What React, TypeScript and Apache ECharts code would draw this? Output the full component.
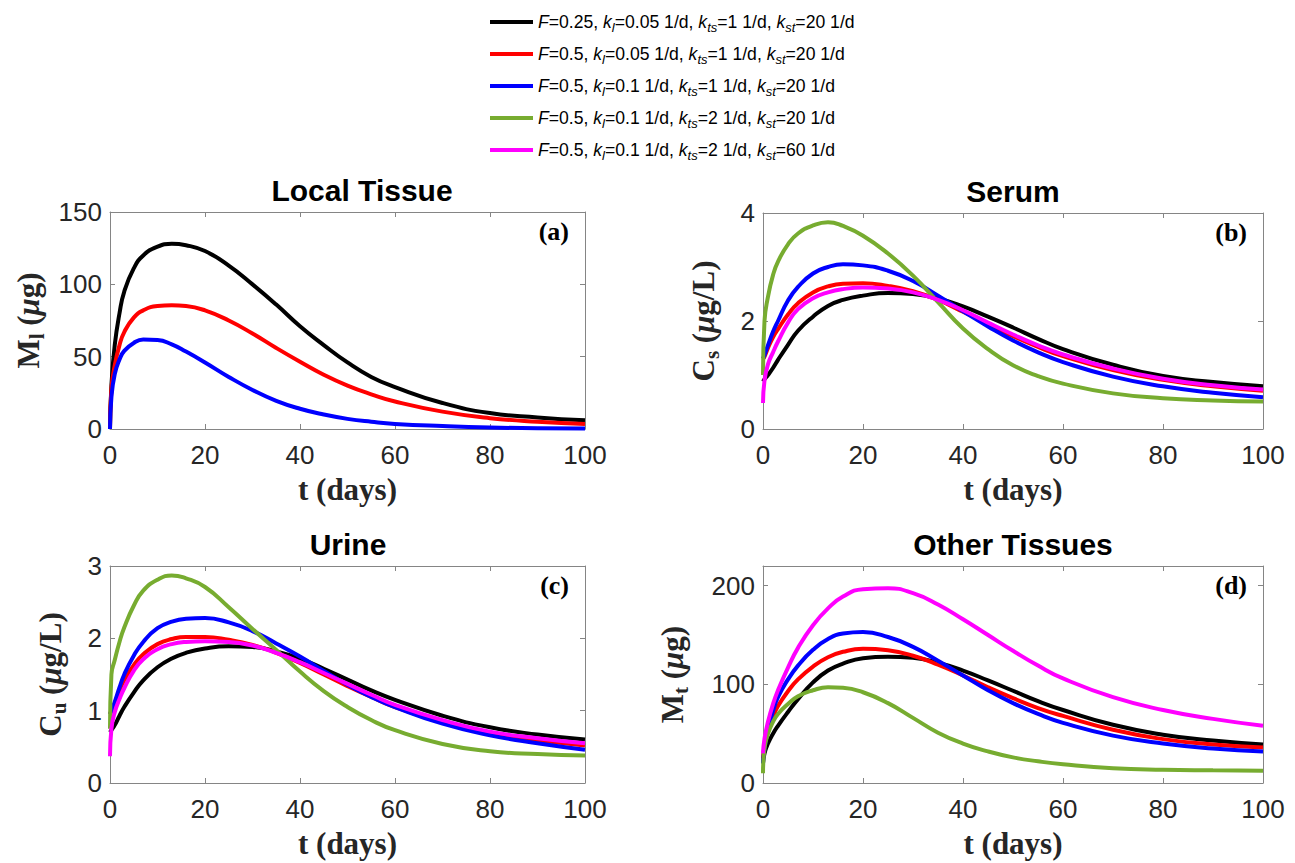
import React, { useEffect, useRef } from 'react';
import * as echarts from 'echarts';

// time points (days)
const T = [0, 0.3, 1, 2, 3, 5, 7, 10, 13, 16, 20, 25, 30, 35, 40, 45, 50, 55, 60, 70, 80, 90, 100];

const seriesNames = [
  'F=0.25, kl=0.05 1/d, kts=1 1/d, kst=20 1/d',
  'F=0.5, kl=0.05 1/d, kts=1 1/d, kst=20 1/d',
  'F=0.5, kl=0.1 1/d, kts=1 1/d, kst=20 1/d',
  'F=0.5, kl=0.1 1/d, kts=2 1/d, kst=20 1/d',
  'F=0.5, kl=0.1 1/d, kts=2 1/d, kst=60 1/d',
];
const legendRich = [
  '{i|F}=0.25, {i|k}{s|l}=0.05 1/d, {i|k}{s|ts}=1 1/d, {i|k}{s|st}=20 1/d',
  '{i|F}=0.5, {i|k}{s|l}=0.05 1/d, {i|k}{s|ts}=1 1/d, {i|k}{s|st}=20 1/d',
  '{i|F}=0.5, {i|k}{s|l}=0.1 1/d, {i|k}{s|ts}=1 1/d, {i|k}{s|st}=20 1/d',
  '{i|F}=0.5, {i|k}{s|l}=0.1 1/d, {i|k}{s|ts}=2 1/d, {i|k}{s|st}=20 1/d',
  '{i|F}=0.5, {i|k}{s|l}=0.1 1/d, {i|k}{s|ts}=2 1/d, {i|k}{s|st}=60 1/d',
];
const colors = ['#000000', '#ff0000', '#0000ff', '#77ac30', '#ff00ff'];

// (a) Local Tissue, M_l (ug)
const aBlack = [0, 30, 58, 80, 95, 111, 120, 126, 128, 127, 123, 113, 100, 86, 71, 58, 46, 36, 29, 18, 11, 8, 6];
const aRed = [0, 28, 44, 58, 67, 77, 82, 85, 85.5, 85, 82, 75, 66, 56, 46.5, 37.5, 30, 24, 19, 12, 7.5, 5, 3.5];
const aBlue = [0, 22, 38, 48, 54, 59.5, 61.8, 61.5, 58.5, 53.5, 46, 36, 27, 19.5, 14, 10, 7, 5, 3.5, 2, 1, 0.6, 0.4];

// (b) Serum, C_s (ug/L)
const bBlack = [0.88, 0.92, 1.0, 1.13, 1.28, 1.56, 1.82, 2.08, 2.28, 2.39, 2.47, 2.52, 2.5, 2.42, 2.27, 2.08, 1.88, 1.67, 1.48, 1.19, 0.98, 0.87, 0.79];
const bRed = [1.3, 1.34, 1.5, 1.7, 1.85, 2.12, 2.33, 2.53, 2.64, 2.69, 2.7, 2.65, 2.55, 2.39, 2.17, 1.94, 1.72, 1.52, 1.35, 1.09, 0.91, 0.79, 0.71];
const bBlue = [1.3, 1.37, 1.55, 1.8, 2.0, 2.38, 2.63, 2.88, 3.0, 3.05, 3.03, 2.93, 2.74, 2.47, 2.18, 1.9, 1.64, 1.42, 1.24, 0.97, 0.79, 0.67, 0.59];
const bGreen = [1.0, 2.0, 2.45, 2.85, 3.1, 3.42, 3.62, 3.77, 3.83, 3.76, 3.58, 3.25, 2.84, 2.35, 1.86, 1.48, 1.18, 0.98, 0.84, 0.66, 0.57, 0.53, 0.51];
const bMagenta = [0.48, 0.9, 1.2, 1.42, 1.62, 1.97, 2.22, 2.42, 2.53, 2.59, 2.62, 2.6, 2.53, 2.39, 2.2, 1.97, 1.75, 1.55, 1.38, 1.12, 0.93, 0.81, 0.73];

// (c) Urine, C_u (ug/L)
const cBlack = [0.7, 0.73, 0.8, 0.93, 1.05, 1.25, 1.42, 1.6, 1.72, 1.8, 1.86, 1.89, 1.88, 1.82, 1.72, 1.58, 1.43, 1.28, 1.15, 0.93, 0.77, 0.67, 0.6];
const cRed = [0.95, 1.0, 1.1, 1.28, 1.42, 1.63, 1.78, 1.92, 1.99, 2.02, 2.02, 1.98, 1.91, 1.8, 1.66, 1.5, 1.34, 1.19, 1.05, 0.84, 0.68, 0.59, 0.52];
const cBlue = [0.95, 1.0, 1.12, 1.32, 1.5, 1.76, 1.95, 2.14, 2.23, 2.27, 2.28, 2.22, 2.1, 1.93, 1.75, 1.55, 1.36, 1.19, 1.05, 0.82, 0.66, 0.55, 0.46];
const cGreen = [0.75, 1.5, 1.7, 1.95, 2.15, 2.45, 2.66, 2.81, 2.87, 2.83, 2.71, 2.43, 2.13, 1.84, 1.54, 1.27, 1.05, 0.87, 0.73, 0.54, 0.44, 0.4, 0.38];
const cMagenta = [0.37, 0.75, 0.98, 1.16, 1.31, 1.55, 1.71, 1.85, 1.92, 1.95, 1.96, 1.95, 1.9, 1.8, 1.67, 1.52, 1.37, 1.22, 1.08, 0.87, 0.71, 0.62, 0.55];

// (d) Other Tissues, M_t (ug)
const dBlack = [20, 30, 40, 50, 58, 72, 85, 102, 114, 121, 126.5, 128, 127, 122, 114, 104, 93.5, 83, 74, 59, 49, 43, 39];
const dRed = [25, 38, 53, 67, 78, 93, 105, 118, 127.5, 133, 136, 134.5, 129, 120, 109, 97, 86, 76, 68, 54, 44.5, 39, 36];
const dBlue = [20, 35, 54, 73, 87, 105, 119, 135, 146, 151.5, 153, 148, 138, 124, 109, 94, 81, 70, 61, 48, 40, 35, 32];
const dGreen = [10, 35, 50, 62, 70, 80, 88, 94, 97, 96.5, 92, 81, 66, 51, 40, 32, 26, 22, 19, 15, 13.4, 12.8, 12.4];
const dMagenta = [30, 45, 62, 80, 94, 117, 137, 160, 177, 189, 196.5, 197.5, 192.5, 181, 166, 150, 134, 119, 106, 87, 74, 65, 58];

const panelTitles = ['Local Tissue', 'Serum', 'Urine', 'Other Tissues'];
const panelTags = ['(a)', '(b)', '(c)', '(d)'];
const yNames = ['M{s|l} ({m|\u03bc}g)', 'C{s|s} ({m|\u03bc}g/L)', 'C{s|u} ({m|\u03bc}g/L)', 'M{s|t} ({m|\u03bc}g)'];
const yMax = [150, 4, 3, 220];
const yInterval = [50, 2, 1, 100];
const xTicks = { min: 0, max: 100, interval: 20 };

const panelData = [
  [aBlack, aRed, aBlue],
  [bBlack, bRed, bBlue, bGreen, bMagenta],
  [cBlack, cRed, cBlue, cGreen, cMagenta],
  [dBlack, dRed, dBlue, dGreen, dMagenta],
];

export default function App() {
  const ref = useRef<HTMLDivElement>(null);
  useEffect(() => {
    if (!ref.current) return;
    const chart = echarts.init(ref.current, undefined, { renderer: 'svg' });
    const grids = [
      { left: 110, top: 212, width: 475, height: 217 },
      { left: 763, top: 213, width: 500, height: 216 },
      { left: 110, top: 566, width: 475, height: 217 },
      { left: 763, top: 566, width: 500, height: 217 },
    ];
    const nameGaps = [63, 41, 41, 72];
    const titleX = [362, 1013, 348, 1013];
    const frame = '#858585';
    const tickLabel = { fontSize: 26, color: '#262626', fontFamily: 'Liberation Sans' };
    const serif = 'Liberation Serif';
    const xAxes: any[] = [];
    const yAxes: any[] = [];
    grids.forEach((g, i) => {
      xAxes.push({
        type: 'value', gridIndex: i, ...xTicks, position: 'bottom',
        name: 't (days)', nameLocation: 'middle', nameGap: 45,
        nameTextStyle: { fontFamily: serif, fontWeight: 'bold', fontSize: 31, color: '#262626' },
        axisLine: { show: true, onZero: false, lineStyle: { color: frame, width: 1 } },
        axisTick: { show: true, inside: true, length: 5, lineStyle: { color: frame } },
        axisLabel: { ...tickLabel, margin: 13 },
        splitLine: { show: false },
      });
      xAxes.push({
        type: 'value', gridIndex: i, ...xTicks, position: 'top',
        axisLine: { show: true, onZero: false, lineStyle: { color: frame, width: 1 } },
        axisTick: { show: true, inside: true, length: 5, lineStyle: { color: frame } },
        axisLabel: { show: false },
        splitLine: { show: false },
      });
      yAxes.push({
        type: 'value', gridIndex: i, min: 0, max: yMax[i], interval: yInterval[i], position: 'left',
        name: yNames[i], nameLocation: 'middle', nameGap: nameGaps[i], nameRotate: 90,
        nameTextStyle: {
          fontFamily: serif, fontWeight: 'bold', fontSize: 31, color: '#262626', lineHeight: 38,
          rich: {
            s: { fontFamily: serif, fontWeight: 'bold', fontSize: 21, lineHeight: 21, verticalAlign: 'bottom', color: '#262626' },
            m: { fontFamily: serif, fontStyle: 'italic', fontWeight: 'bold', fontSize: 31, lineHeight: 38, color: '#262626' },
          },
        },
        axisLine: { show: true, onZero: false, lineStyle: { color: frame, width: 1 } },
        axisTick: { show: true, inside: true, length: 5, lineStyle: { color: frame } },
        axisLabel: { ...tickLabel, margin: 8, showMaxLabel: i === 3 ? false : true },
        splitLine: { show: false },
      });
      yAxes.push({
        type: 'value', gridIndex: i, min: 0, max: yMax[i], interval: yInterval[i], position: 'right',
        axisLine: { show: true, onZero: false, lineStyle: { color: frame, width: 1 } },
        axisTick: { show: true, inside: true, length: 5, lineStyle: { color: frame } },
        axisLabel: { show: false },
        splitLine: { show: false },
      });
    });

    const series: any[] = [];
    panelData.forEach((list, p) => {
      list.forEach((vals, k) => {
        series.push({
          type: 'line', name: seriesNames[k], xAxisIndex: 2 * p, yAxisIndex: 2 * p,
          data: T.map((t, j) => [t, vals[j]]),
          showSymbol: false, smooth: 0.5,
          lineStyle: { color: colors[k], width: 4 }, itemStyle: { color: colors[k] },
          clip: true,
        });
      });
    });

    const graphic: any[] = [];
    grids.forEach((g, i) => {
      graphic.push({
        type: 'text', x: titleX[i], y: g.top - 22,
        style: {
          text: panelTitles[i], fill: '#000', fontSize: 30, fontWeight: 'bold', fontFamily: 'Liberation Sans',
          align: 'center', verticalAlign: 'middle', textAlign: 'center', textVerticalAlign: 'middle',
        },
      });
      graphic.push({
        type: 'text', x: g.left + g.width - 16, y: g.top + 19,
        style: {
          text: panelTags[i], fill: '#000', fontSize: 26, fontWeight: 'bold', fontFamily: serif,
          align: 'right', verticalAlign: 'middle', textAlign: 'right', textVerticalAlign: 'middle',
        },
      });
    });

    chart.setOption({
      animation: false,
      backgroundColor: '#ffffff',
      grid: grids,
      xAxis: xAxes,
      yAxis: yAxes,
      series,
      graphic,
      legend: {
        orient: 'vertical', left: 485, top: 5, itemWidth: 43, itemHeight: 4, itemGap: 8, icon: 'rect',
        selectedMode: false, data: seriesNames,
        formatter: (name: string) => legendRich[seriesNames.indexOf(name)],
        textStyle: {
          fontFamily: 'Liberation Sans', fontSize: 17.6, color: '#000', lineHeight: 24,
          rich: {
            i: { fontFamily: 'Liberation Sans', fontStyle: 'italic', fontSize: 17.6, lineHeight: 24, color: '#000' },
            s: { fontFamily: 'Liberation Sans', fontStyle: 'italic', fontSize: 13, lineHeight: 13, verticalAlign: 'bottom', color: '#000' },
          },
        },
      },
    });
    return () => chart.dispose();
  }, []);
  return <div ref={ref} style={{ position: 'fixed', left: 0, top: 0, width: 1295, height: 863, background: '#fff' }} />;
}
